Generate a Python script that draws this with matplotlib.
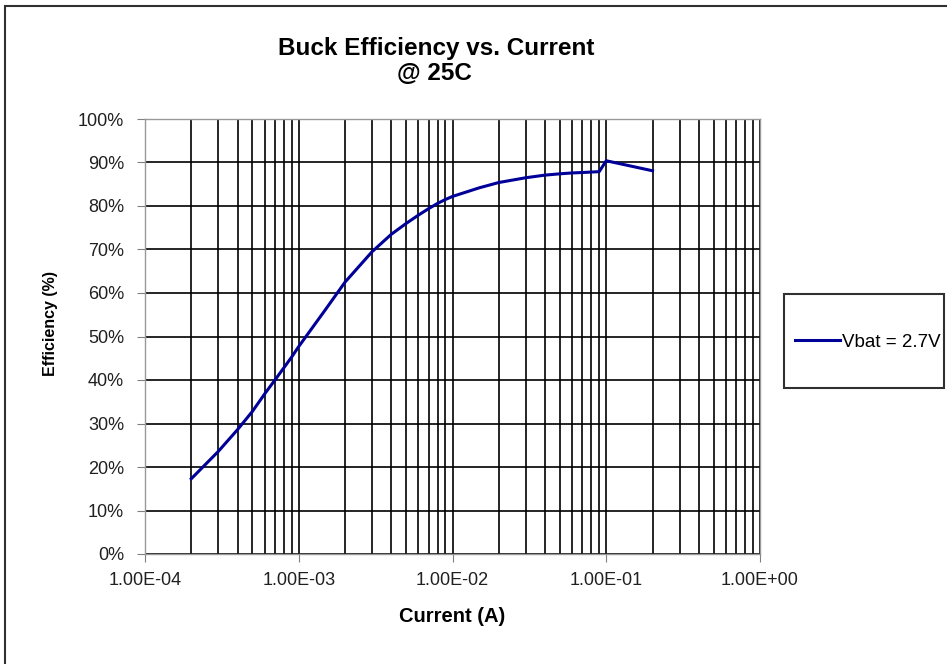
import matplotlib
matplotlib.use("Agg")
import matplotlib.pyplot as plt
from matplotlib.ticker import LogLocator, FixedLocator, FuncFormatter, PercentFormatter
from matplotlib.patches import Rectangle

# Buck converter efficiency measured at 25C, Vbat = 2.7 V
current_a = [2e-4, 3e-4, 4e-4, 5e-4, 6e-4, 7e-4, 8e-4, 9e-4,
             1e-3, 1.5e-3, 2e-3, 3e-3, 4e-3, 5e-3, 6e-3, 7e-3, 8e-3, 9e-3,
             1e-2, 1.5e-2, 2e-2, 3e-2, 4e-2, 5e-2, 6e-2, 7e-2, 8e-2, 9e-2,
             1e-1, 2e-1]
efficiency_pct = [17.3, 23.6, 28.6, 32.8, 36.8, 40.0, 42.8, 45.3,
                  47.7, 56.3, 62.5, 69.5, 73.5, 76.0, 77.9, 79.4, 80.6, 81.5,
                  82.2, 84.2, 85.4, 86.5, 87.1, 87.4, 87.6, 87.7, 87.8, 87.9,
                  90.4, 88.1]
series_label = "Vbat = 2.7V"
x_tick_values = [1e-4, 1e-3, 1e-2, 1e-1, 1e0]
x_tick_labels = ["1.00E-04", "1.00E-03", "1.00E-02", "1.00E-01", "1.00E+00"]

plt.rcParams["font.family"] = ["Liberation Sans", "DejaVu Sans"]

W, H = 947, 664
fig = plt.figure(figsize=(W / 100, H / 100), dpi=100)
fig.patch.set_facecolor("white")

# outer chart frame
fig.patches.append(Rectangle((5 / W, -0.05), 1.2, 1 - 6 / H + 0.05,
                             transform=fig.transFigure, fill=False,
                             edgecolor="#303030", linewidth=1.5))

ax = fig.add_axes([145 / W, 110 / H, 615 / W, 435 / H])
ax.plot(current_a, efficiency_pct, color="#000099", linewidth=2.2,
        label=series_label, solid_joinstyle="round", zorder=3)

ax.set_xscale("log")
ax.set_xlim(1e-4, 1e0)
ax.set_ylim(0, 100)

ax.xaxis.set_major_locator(FixedLocator(x_tick_values))
ax.xaxis.set_major_formatter(FuncFormatter(
    lambda v, p: x_tick_labels[x_tick_values.index(v)] if v in x_tick_values else ""))
ax.xaxis.set_minor_locator(LogLocator(base=10, subs=range(2, 10), numticks=20))
ax.yaxis.set_major_locator(FixedLocator(range(0, 101, 10)))
ax.yaxis.set_major_formatter(PercentFormatter(decimals=0))

ax.grid(True, which="major", color="black", linewidth=1.2)
ax.grid(True, which="minor", axis="x", color="black", linewidth=1.2)
ax.set_axisbelow(True)

for s in ["left", "bottom", "right", "top"]:
    ax.spines[s].set_color("#999999")
    ax.spines[s].set_linewidth(1.0)

ax.tick_params(axis="both", which="major", direction="out", length=6,
               color="#808080", labelsize=13, labelcolor="#202020")
ax.tick_params(axis="x", which="minor", length=0)
ax.tick_params(axis="x", which="major", pad=7)
ax.tick_params(axis="y", which="major", pad=9)

ax.set_xlabel("Current (A)", fontsize=14.5, fontweight="bold")
ax.xaxis.set_label_coords(0.5, (555 - 618) / 435)
ax.xaxis.label.set_va("center")
ax.set_ylabel("Efficiency (%)", fontsize=11.5, fontweight="bold")
ax.yaxis.set_label_coords((50 - 145) / 615, (555 - 325) / 435)
ax.yaxis.label.set_va("center")

fig.text(436 / W, 1 - 48 / H, "Buck Efficiency vs. Current", ha="center",
         va="center", fontsize=17.5, fontweight="bold")
fig.text(434 / W, 1 - 74 / H, "@ 25C", ha="center", va="center",
         fontsize=17.5, fontweight="bold")

# legend box with the series key inside
fig.patches.append(Rectangle((784 / W, 1 - 388 / H), 160 / W, 94 / H,
                             transform=fig.transFigure, fill=False,
                             edgecolor="#303030", linewidth=1.5))
leg = fig.legend(loc="center left", bbox_to_anchor=(795 / W, 1 - 342 / H),
                 frameon=False, fontsize=13.5, handlelength=2.4,
                 handletextpad=0.1, borderpad=0, borderaxespad=0)

fig.savefig("out.png", dpi=100, facecolor="white")
